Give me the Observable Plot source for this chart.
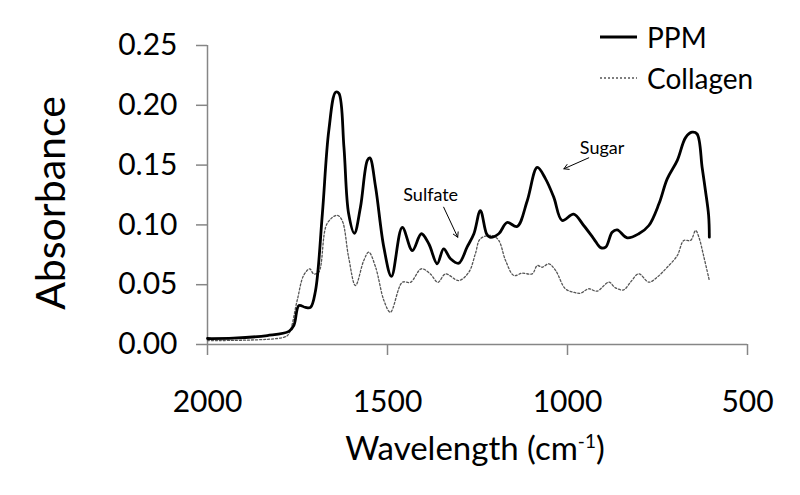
<!DOCTYPE html>
<html><head><meta charset="utf-8">
<script src="https://cdn.jsdelivr.net/npm/d3@7"></script>
<script src="https://cdn.jsdelivr.net/npm/@observablehq/plot@0.6"></script>
<style>
html,body{margin:0;padding:0;background:#fff;}
#chart{width:800px;height:495px;position:relative;}
</style></head><body><div id="chart"></div>
<script>
// ---- data ----
const ppmWavenumber = [2000,1928,1834,1774,1760,1746,1728,1714,1700,1681,1663,1644,1635,1621,1608,1592,1575,1556,1549,1533,1510,1489,1459,1431,1406,1385,1362,1344,1325,1302,1279,1260,1242,1225,1216,1191,1168,1140,1112,1084,1061,1038,1015,983,955,927,908,894,876,862,834,802,774,746,723,695,672,654,640,626,617,608,606];
const ppmAbsorbance = [0.005,0.0053,0.0075,0.011,0.016,0.0326,0.031,0.031,0.045,0.109,0.179,0.211,0.210,0.165,0.1095,0.093,0.115,0.154,0.156,0.1315,0.081,0.057,0.098,0.0786,0.0926,0.084,0.0675,0.080,0.0717,0.068,0.0814,0.0926,0.112,0.0926,0.0897,0.0926,0.102,0.0987,0.120,0.148,0.1385,0.123,0.1037,0.109,0.0995,0.0884,0.081,0.0814,0.0939,0.0959,0.0892,0.0926,0.0995,0.1176,0.1385,0.154,0.173,0.1775,0.176,0.148,0.129,0.108,0.0897];
const collagenWavenumber = [2000,1788,1774,1751,1733,1716,1705,1691,1668,1640,1626,1608,1589,1566,1552,1533,1510,1492,1459,1436,1406,1381,1360,1339,1302,1274,1256,1242,1209,1191,1172,1149,1126,1098,1084,1070,1052,1033,1006,983,964,941,918,885,867,844,825,802,774,751,723,695,677,658,644,635,621,606];
const collagenAbsorbance = [0.0033,0.006,0.009,0.0368,0.0577,0.0633,0.059,0.0605,0.101,0.108,0.1037,0.073,0.0493,0.0702,0.0772,0.0646,0.0368,0.027,0.052,0.052,0.0633,0.059,0.052,0.059,0.0535,0.0605,0.0758,0.0884,0.0911,0.087,0.0702,0.0577,0.0596,0.0591,0.066,0.0646,0.0675,0.0619,0.0466,0.0437,0.0429,0.0466,0.0446,0.0521,0.0474,0.0457,0.0521,0.0591,0.0521,0.0563,0.0646,0.0744,0.087,0.087,0.0953,0.0897,0.073,0.0535];
const xTicks = [2000, 1500, 1000, 500];
const yTicks = [0, 0.05, 0.10, 0.15, 0.20, 0.25];
const seriesNames = ["PPM", "Collagen"];
const xTitle = "Wavelength (cm";
const xTitleSup = "-1";
const yTitle = "Absorbance";
const noteText = ["Sulfate", "Sugar"];
const noteWn = [1380, 904];
const noteAbs = [0.1249, 0.1639];
const arrowFromWn = [1344, 941];
const arrowFromAbs = [0.1148, 0.1561];
const arrowToWn = [1305, 1010];
const arrowToAbs = [0.0897, 0.1469];

// ---- build ----
const ppm = ppmWavenumber.map((w, i) => ({w, a: ppmAbsorbance[i]}));
const collagen = collagenWavenumber.map((w, i) => ({w, a: collagenAbsorbance[i]}));
const notes = noteText.map((t, i) => ({t, w: noteWn[i], a: noteAbs[i]}));
const arrows = arrowFromWn.map((w, i) => ({w1: w, a1: arrowFromAbs[i], w2: arrowToWn[i], a2: arrowToAbs[i]}));

const axisGray = "#868686";
const font = "Lato, 'Open Sans', sans-serif";

const plot = Plot.plot({
  width: 800, height: 495,
  marginLeft: 207, marginRight: 53, marginTop: 45, marginBottom: 151,
  style: {fontFamily: font, background: "#fff", overflow: "visible", color: "#000"},
  x: {domain: [2000, 500]},
  y: {domain: [0, 0.25]},
  marks: [
    Plot.axisY({ticks: yTicks, tickSize: 11, tickPadding: 19, fontSize: 30, stroke: axisGray, strokeWidth: 1.5, fill: "#000", tickFormat: d => d.toFixed(2), label: null}),
    Plot.axisX({ticks: xTicks, tickSize: 11, tickPadding: 35, fontSize: 30, stroke: axisGray, strokeWidth: 1.5, fill: "#000", tickFormat: d => String(d), label: null}),
    Plot.ruleX([2000], {stroke: axisGray, strokeWidth: 1.5}),
    Plot.ruleY([0], {stroke: axisGray, strokeWidth: 1.5}),
    Plot.line(collagen, {x: "w", y: "a", stroke: "#555", strokeWidth: 1.3, strokeDasharray: "2,2", curve: "catmull-rom"}),
    Plot.line(ppm, {x: "w", y: "a", stroke: "#000", strokeWidth: 2.8, curve: "catmull-rom"}),
    Plot.text(notes, {x: "w", y: "a", text: "t", fontSize: 18, fill: "#000"}),
    Plot.arrow(arrows, {x1: "w1", y1: "a1", x2: "w2", y2: "a2", stroke: "#000", strokeWidth: 1, headLength: 8})
  ]
});
document.getElementById("chart").appendChild(plot);

// axis titles & legend as real SVG text
const svg = d3.select(plot);
svg.append("text")
  .attr("transform", "translate(65,203) rotate(-90)")
  .attr("text-anchor", "middle")
  .attr("font-family", font).attr("font-size", 41).attr("fill", "#000")
  .text(yTitle);
const xt = svg.append("text")
  .attr("x", 475).attr("y", 460)
  .attr("text-anchor", "middle")
  .attr("font-family", font).attr("font-size", 33).attr("fill", "#000");
xt.append("tspan").text(xTitle);
xt.append("tspan").attr("dy", -12).attr("font-size", 19).text(xTitleSup);
xt.append("tspan").attr("dy", 12).text(")");

const legendStyles = [
  {stroke: "#000", width: 2.8, dash: null},
  {stroke: "#555", width: 1.3, dash: "2,2"}
];
seriesNames.forEach((name, i) => {
  const cy = 37 + i * 41;
  const s = legendStyles[i];
  const ln = svg.append("line").attr("x1", 600).attr("x2", 637).attr("y1", cy).attr("y2", cy)
    .attr("stroke", s.stroke).attr("stroke-width", s.width);
  if (s.dash) ln.attr("stroke-dasharray", s.dash);
  svg.append("text").attr("x", 647).attr("y", cy + 11)
    .attr("text-anchor", "start")
    .attr("font-family", font).attr("font-size", 28).attr("fill", "#000").text(name);
});
</script></body></html>
